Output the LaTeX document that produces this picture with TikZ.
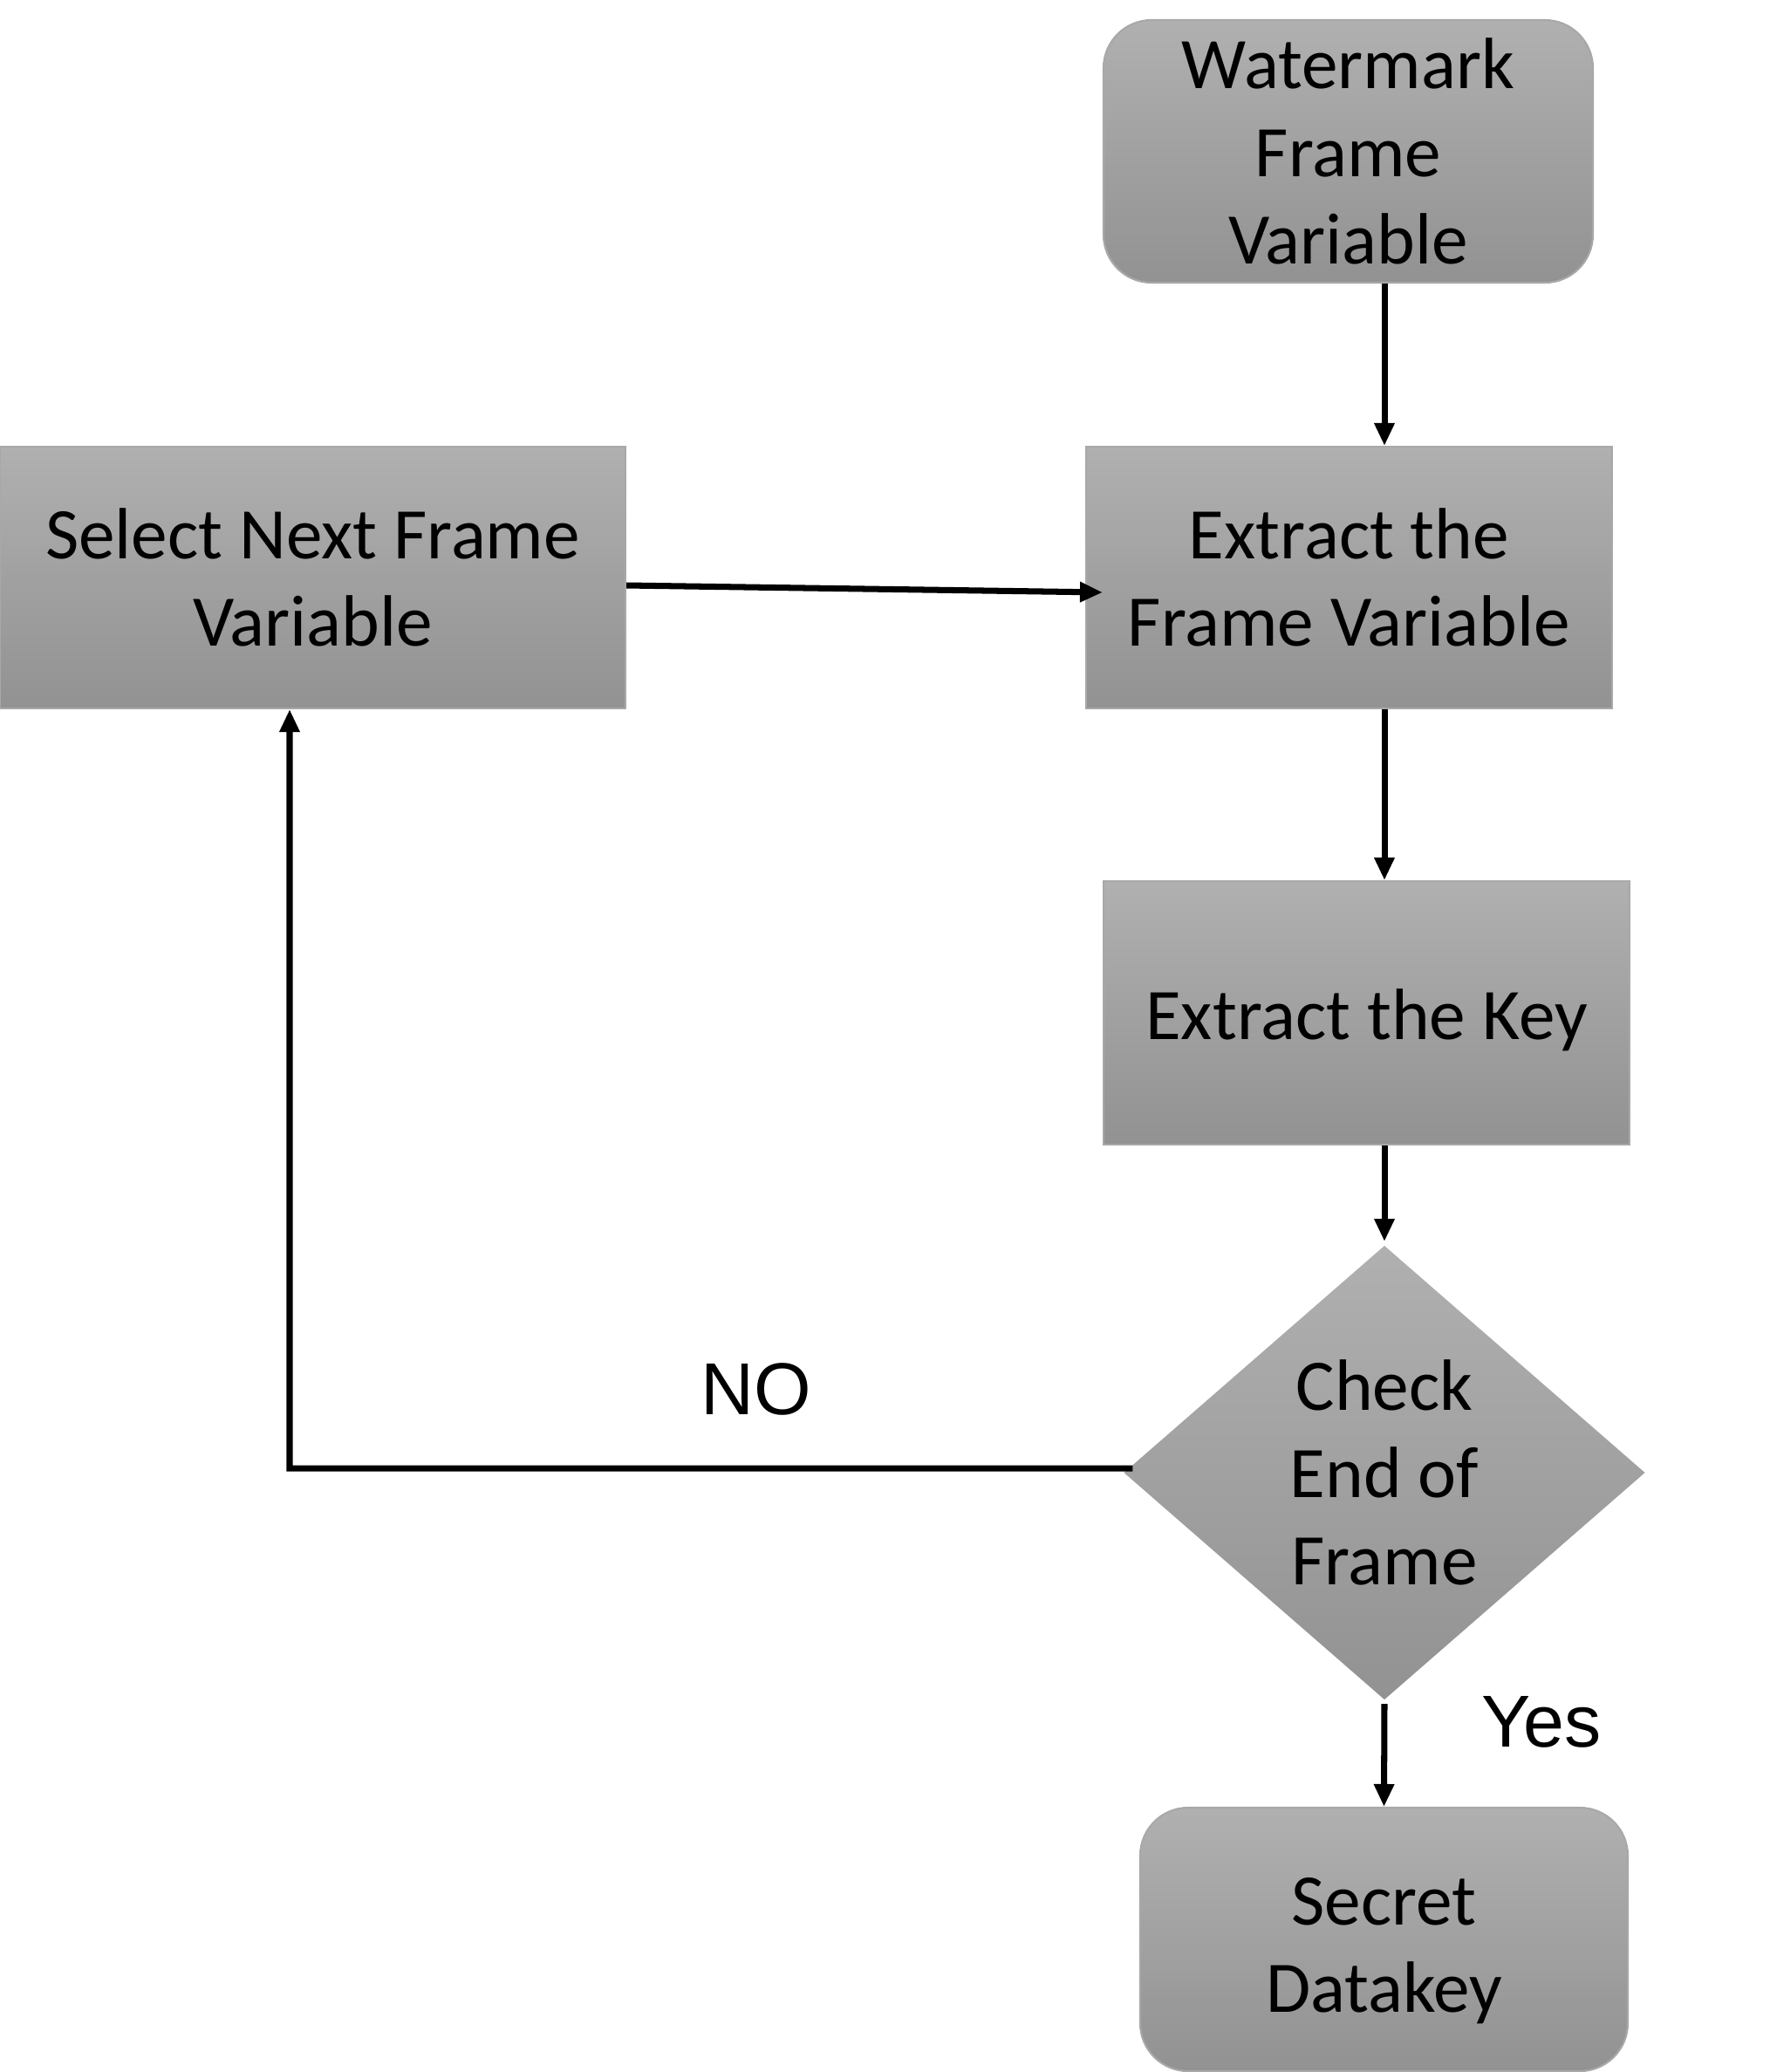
\documentclass[tikz,border=0pt]{standalone}
\usepackage{fontspec}
\setmainfont{Carlito}
\newfontfamily\tagfont{Liberation Sans}
\usetikzlibrary{arrows.meta,shapes.geometric,positioning}
\definecolor{boxtop}{HTML}{B0B0B0}
\definecolor{boxbottom}{HTML}{929292}
\definecolor{boxline}{HTML}{A8A8A8}

\begin{document}
\begin{tikzpicture}[->,>={Triangle[length=0.26cm,width=0.22cm]},line width=2pt,
  font=\fontsize{23.7}{28.5}\selectfont,
  block/.style={rectangle,draw=boxline,line width=0.6pt,top color=boxtop,bottom color=boxbottom,
    align=center,inner sep=0pt},
  terminal/.style={block,rounded corners=0.55cm},
  decision/.style={diamond,draw=none,top color=boxtop,bottom color=boxbottom,align=center,
    inner sep=0pt,minimum width=6cm,minimum height=5.23cm},
  tag/.style={font=\tagfont\fontsize{24}{28}\selectfont}]
  \useasboundingbox (0,0) rectangle (20.29,-23.75);
  % Blocks
  \node[terminal,minimum width=5.61cm,minimum height=3.01cm] (WM var)       at (15.455,-1.735) {Watermark\\Frame\\Variable};
  \node[block,   minimum width=7.17cm,minimum height=3cm]    (Select next)  at (3.585,-6.62)   {Select Next Frame\\Variable};
  \node[block,   minimum width=6.03cm,minimum height=3cm]    (Extract frame) at (15.465,-6.62) {Extract the\\Frame Variable};
  \node[block,   minimum width=6.03cm,minimum height=3.02cm,text height=0.75cm] (Extract key) at (15.665,-11.61) {Extract the Key};
  \node[decision]                                            (Check end)    at (15.87,-16.88)  {Check\\End of\\Frame};
  \node[terminal,minimum width=5.59cm,minimum height=3.02cm,text height=1.8cm] (Secret key) at (15.865,-22.23) {Secret\\Datakey};
  % Main flow
  \path
  (WM var.south -| Check end.north) edge (Extract frame.north -| Check end.north)
  (Extract frame.south -| Check end.north) edge (Extract key.north -| Check end.north)
  (Extract key.south -| Check end.north) edge (Check end.north)
  (Check end.south) edge (Secret key.north);
  \path ([yshift=-0.09cm]Select next.east) edge ([xshift=0.2cm,yshift=-0.17cm]Extract frame.west);
  % Loop back
  \coordinate (loop corner) at (3.32,-16.83);
  \draw ([xshift=0.15cm,yshift=0.05cm]Check end.west) -- (loop corner) -- (loop corner |- Select next.south);
  % Labels
  \node[tag] (no label)  at (8.67,-15.92) {NO};
  \node[tag] (yes label) at (17.67,-19.74) {Yes};
\end{tikzpicture}
\end{document}
